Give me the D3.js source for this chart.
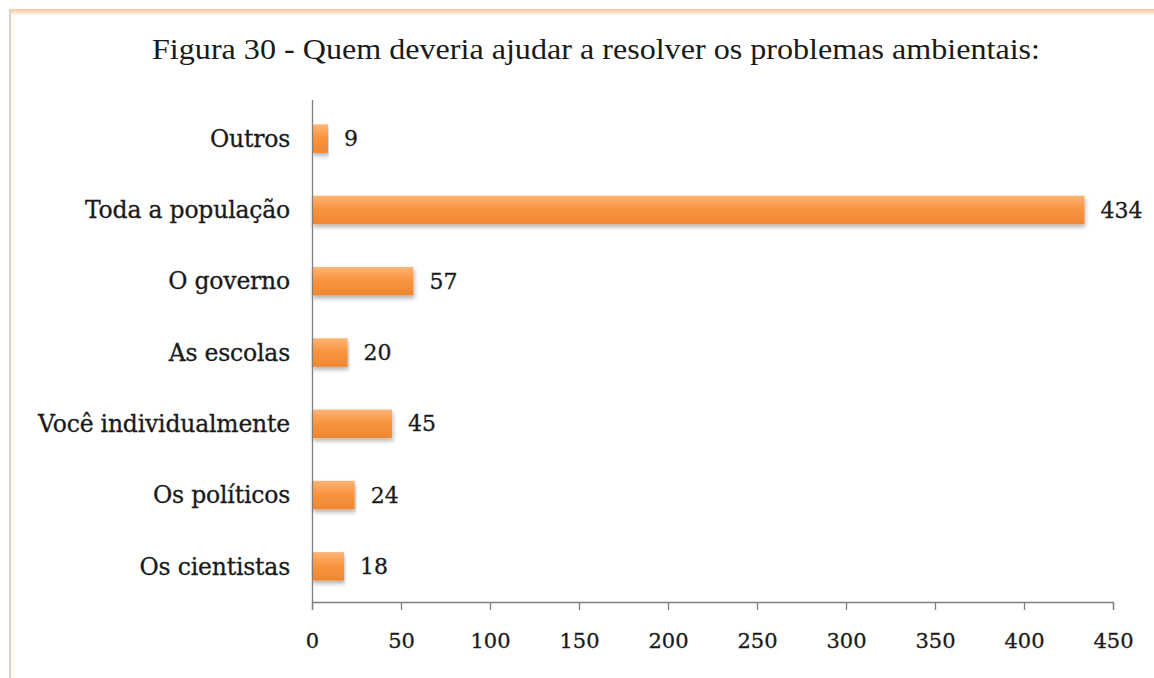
<!DOCTYPE html>
<html>
<head>
<meta charset="utf-8">
<script src="https://cdn.jsdelivr.net/npm/d3@7/dist/d3.min.js"></script>
<style>
  html, body { margin: 0; padding: 0; background: #ffffff; }
  svg { display: block; }
</style>
</head>
<body>
<script>
// Respostas: quem deveria ajudar a resolver os problemas ambientais
const categories = ["Outros", "Toda a população", "O governo", "As escolas", "Você individualmente", "Os políticos", "Os cientistas"];
const values = [9, 434, 57, 20, 45, 24, 18];
const xTicks = [0, 50, 100, 150, 200, 250, 300, 350, 400, 450];
const title = "Figura 30 - Quem deveria ajudar a resolver os problemas ambientais:";

const W = 1154, H = 678;
const svg = d3.select("body").append("svg").attr("width", W).attr("height", H);

const defs = svg.append("defs");
const grad = defs.append("linearGradient").attr("id", "barFill")
  .attr("x1", 0).attr("y1", 0).attr("x2", 0).attr("y2", 1);
grad.append("stop").attr("offset", "0%").attr("stop-color", "#fcb578");
grad.append("stop").attr("offset", "45%").attr("stop-color", "#f9953f");
grad.append("stop").attr("offset", "100%").attr("stop-color", "#ef8631");

const shadow = defs.append("filter").attr("id", "barShadow")
  .attr("x", "-5%").attr("y", "-30%").attr("width", "110%").attr("height", "180%");
shadow.append("feGaussianBlur").attr("in", "SourceAlpha").attr("stdDeviation", 2.2).attr("result", "b");
shadow.append("feOffset").attr("in", "b").attr("dx", 1).attr("dy", 3).attr("result", "o");
shadow.append("feComponentTransfer").attr("in", "o").attr("result", "s")
  .append("feFuncA").attr("type", "linear").attr("slope", 0.3);
const merge = shadow.append("feMerge");
merge.append("feMergeNode").attr("in", "s");
merge.append("feMergeNode").attr("in", "SourceGraphic");

const topEdge = defs.append("linearGradient").attr("id", "topEdge")
  .attr("x1", 0).attr("y1", 0).attr("x2", 0).attr("y2", 1);
topEdge.append("stop").attr("offset", "0%").attr("stop-color", "#f3c29c");
topEdge.append("stop").attr("offset", "100%").attr("stop-color", "#fff8ee");

// Moldura
svg.append("rect").attr("x", 9).attr("y", 9).attr("width", W - 9).attr("height", 6).attr("fill", "url(#topEdge)");
svg.append("rect").attr("x", 9).attr("y", 9).attr("width", 2).attr("height", H).attr("fill", "#d9cfc2");
svg.append("rect").attr("x", 11).attr("y", 15).attr("width", 4).attr("height", H).attr("fill", "#fffaf1");

const x = d3.scaleLinear().domain([0, 450]).range([312, 1113]);
const y = d3.scaleBand().domain(categories).range([103, 602]).paddingInner(0.6).paddingOuter(0.3);

const serif = "'DejaVu Serif', serif";
const ink = "#1a1a1a";

// Título
svg.append("text")
  .attr("x", 596).attr("y", 59)
  .attr("text-anchor", "middle")
  .style("font-family", "'Liberation Serif', 'Times New Roman', Times, serif")
  .attr("font-size", 29)
  .attr("fill", ink)
  .attr("textLength", 888).attr("lengthAdjust", "spacingAndGlyphs")
  .text(title);

// Barras
svg.append("g").selectAll("rect")
  .data(categories)
  .join("rect")
  .attr("x", x(0))
  .attr("y", d => y(d))
  .attr("width", (d, i) => x(values[i]) - x(0))
  .attr("height", y.bandwidth())
  .attr("fill", "url(#barFill)")
  .attr("filter", "url(#barShadow)");

// Eixo vertical
svg.append("line")
  .attr("x1", x(0) + 0.5).attr("x2", x(0) + 0.5)
  .attr("y1", 100).attr("y2", 602)
  .attr("stroke", "#7f7f7f").attr("stroke-width", 1.3);

// Eixo horizontal
const xAxis = svg.append("g")
  .attr("transform", "translate(0,602)")
  .call(d3.axisBottom(x).tickValues(xTicks).tickSize(8).tickPadding(23).tickFormat(d3.format("d")));
xAxis.select(".domain").attr("stroke", "#7f7f7f").attr("stroke-width", 1.3);
xAxis.selectAll(".tick line").attr("stroke", "#7f7f7f").attr("stroke-width", 1.3);
xAxis.selectAll(".tick text")
  .attr("font-family", serif).attr("font-size", 21).attr("fill", ink)
  .attr("stroke", ink).attr("stroke-width", 0.3);

// Rótulos das categorias
svg.append("g").selectAll("text")
  .data(categories)
  .join("text")
  .attr("x", 290)
  .attr("y", d => y(d) + y.bandwidth() / 2)
  .attr("dy", "0.35em")
  .attr("text-anchor", "end")
  .attr("font-family", serif)
  .attr("font-size", 23.5)
  .attr("fill", ink)
  .attr("stroke", ink).attr("stroke-width", 0.3)
  .attr("letter-spacing", -0.2)
  .text(d => d);

// Valores
svg.append("g").selectAll("text")
  .data(categories)
  .join("text")
  .attr("x", (d, i) => x(values[i]) + 16)
  .attr("y", d => y(d) + y.bandwidth() / 2)
  .attr("dy", "0.35em")
  .attr("font-family", serif)
  .attr("font-size", 22)
  .attr("fill", ink)
  .attr("stroke", ink).attr("stroke-width", 0.3)
  .text((d, i) => values[i]);
</script>
</body>
</html>
